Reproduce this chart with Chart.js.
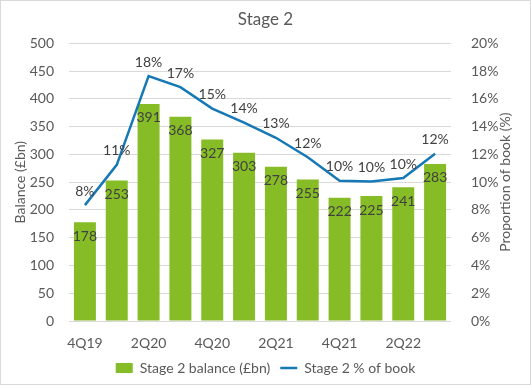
<!DOCTYPE html>
<html><head><meta charset="utf-8">
<script src="https://cdn.jsdelivr.net/npm/chart.js@4"></script>
<style>html,body{margin:0;padding:0;background:#fff}#wrap{width:531px;height:385px;position:relative}</style>
</head><body><div id="wrap"><canvas id="c" width="531" height="385"></canvas></div>
<script>
const categories = ['4Q19','1Q20','2Q20','3Q20','4Q20','1Q21','2Q21','3Q21','4Q21','1Q22','2Q22','3Q22'];
const balance = [178,253,391,368,327,303,278,255,222,225,241,283];
const pctOfBook = [8.35,11.25,17.65,16.85,15.3,14.3,13.2,11.8,10.1,10.05,10.3,12.05];
const pctLabels = ['8%','11%','18%','17%','15%','14%','13%','12%','10%','10%','10%','12%'];
const leftTicks = [0,50,100,150,200,250,300,350,400,450,500];
const rightTicks = [0,2,4,6,8,10,12,14,16,18,20];

const FONT = 'Lato, "Open Sans", sans-serif';
const TXT = '#595959';

const labelPlugin = {
  id: 'labels',
  beforeDraw(chart){
    const ctx = chart.ctx;
    ctx.save();
    ctx.fillStyle = '#fff';
    ctx.fillRect(0,0,chart.width,chart.height);
    ctx.strokeStyle = '#d9d9d9';
    ctx.lineWidth = 1;
    ctx.strokeRect(0.5,0.5,chart.width-1,chart.height-1);
    ctx.restore();
  },
  afterDatasetsDraw(chart){
    const ctx = chart.ctx;
    ctx.save();
    ctx.font = '14px ' + FONT;
    ctx.fillStyle = '#404040';
    ctx.textAlign = 'center';
    ctx.textBaseline = 'middle';
    const bm = chart.getDatasetMeta(0);
    bm.data.forEach((el,i)=>{ ctx.fillText(String(balance[i]), el.x, el.y + 14); });
    const lm = chart.getDatasetMeta(1);
    lm.data.forEach((el,i)=>{ ctx.fillText(pctLabels[i], el.x, el.y - 14); });
    ctx.fillStyle = TXT;
    const ca = chart.chartArea;
    const cy = (ca.top + ca.bottom)/2;
    ctx.translate(20, cy);
    ctx.rotate(-Math.PI/2);
    ctx.fillText('Balance (£bn)', 0, 0);
    ctx.rotate(Math.PI/2);
    ctx.translate(-20, -cy);
    ctx.translate(505, cy);
    ctx.rotate(-Math.PI/2);
    ctx.fillText('Proportion of book (%)', 0, 0);
    ctx.restore();
  }
};

new Chart(document.getElementById('c'), {
  data: {
    labels: categories,
    datasets: [
      { type:'bar', label:'Stage 2 balance (£bn)', data: balance, backgroundColor:'#86BC25', yAxisID:'y', order:2,
        barPercentage:0.69, categoryPercentage:1.0, pointStyle:'rect' },
      { type:'line', label:'Stage 2 % of book', data: pctOfBook, borderColor:'#1778B6', backgroundColor:'#1778B6', borderWidth:2.5,
        pointRadius:0, tension:0, yAxisID:'y1', order:1, pointStyle:'line' }
    ]
  },
  options: {
    responsive:false, animation:false, devicePixelRatio:1,
    layout:{padding:{top:0,bottom:0,left:0,right:0}},
    plugins:{
      title:{display:true,text:'Stage 2',color:TXT,font:{family:FONT,size:17,weight:'normal'},padding:{top:9,bottom:14}},
      legend:{position:'bottom',labels:{color:TXT,font:{family:FONT,size:14},usePointStyle:true,pointStyleWidth:17,boxHeight:10,padding:10,
        sort:(a,b)=>a.datasetIndex-b.datasetIndex}},
      tooltip:{enabled:false}
    },
    scales:{
      x:{grid:{display:false},border:{display:false},
         ticks:{color:TXT,font:{family:FONT,size:14},autoSkip:false,maxRotation:0,padding:6,
           callback:(v,i)=> i%2===0 ? categories[i] : ''},
         afterFit(s){ s.height = 30; }},
      y:{position:'left',min:0,max:500,
         afterBuildTicks(s){ s.ticks = leftTicks.map(v=>({value:v})); },
         grid:{color:'#d9d9d9',drawTicks:false},border:{display:false},
         ticks:{color:TXT,font:{family:FONT,size:14},padding:15},
         afterFit(s){ s.width = 69; }},
      y1:{position:'right',min:0,max:20,
         afterBuildTicks(s){ s.ticks = rightTicks.map(v=>({value:v})); },
         grid:{display:false},border:{display:false},
         ticks:{color:TXT,font:{family:FONT,size:14},padding:12,callback:v=>v+'%'},
         afterFit(s){ s.width = 80; }}
    }
  },
  plugins:[labelPlugin]
});
</script></body></html>
